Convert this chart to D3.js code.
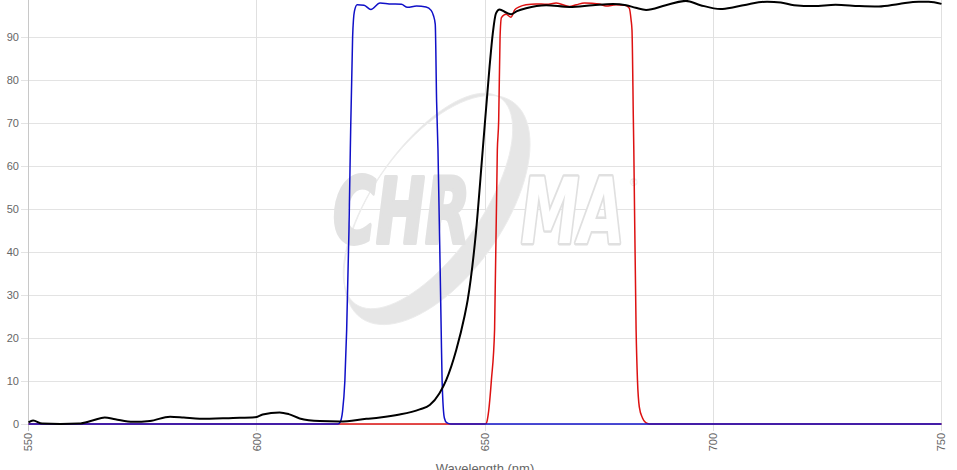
<!DOCTYPE html>
<html>
<head>
<meta charset="utf-8">
<script src="https://cdn.jsdelivr.net/npm/d3@7"></script>
<style>
  body { margin: 0; background: #fff; }
  svg { display: block; font-family: "Liberation Sans", Arial, sans-serif; }
</style>
</head>
<body>
<svg id="chart" width="957" height="470"></svg>
<script>
// wavelength (nm) / transmission (%)
const blackNm = [550, 551, 553, 557, 561, 564, 566.7, 569, 572.9, 576.6, 581, 584, 587.5, 594.8, 599.6, 601.3, 605, 607, 609.4, 613.8, 618.2, 624, 627, 631.3, 635.7, 637.9, 640, 641.5, 643.7, 645.5, 646.2, 648, 649.5, 651, 651.7, 652.4, 653.2, 654.6, 655.7, 657, 659, 663.4, 668.5, 673.6, 678, 680.9, 683, 685.3, 689.6, 694, 697.2, 701.6, 704.5, 708, 711.8, 714.8, 717.7, 722, 726.8, 732, 736.3, 740.7, 745, 747.2, 750];
const blackT = [0.4, 0.8, 0.1, 0, 0.1, 0.8, 1.5, 1.1, 0.5, 0.7, 1.7, 1.5, 1.2, 1.4, 1.55, 2.2, 2.7, 2.3, 1.3, 0.7, 0.6, 1.2, 1.5, 2.2, 3.4, 4.4, 7.1, 10.2, 17.2, 25, 28.8, 44.4, 63.7, 83.1, 90.8, 95.5, 96.4, 95.7, 95.3, 96, 96.7, 97.4, 97, 97.4, 97.7, 97.4, 96.8, 96.3, 97.4, 98.4, 97.4, 96.5, 96.9, 97.7, 98.2, 98, 97.4, 97.2, 97.5, 97.2, 97.1, 97.7, 98.2, 98.2, 97.7];

const blueNm = [550, 617.8, 618.3, 618.8, 619.3, 619.7, 620.2, 620.5, 621, 621.4, 622, 623.5, 625, 627, 629, 631.7, 633, 635, 637.1, 638.2, 638.7, 639.1, 639.4, 639.7, 640.4, 640.6, 641.1, 641.6, 642.5, 750];
const blueT = [0, 0, 0.5, 3, 10, 22, 45, 64, 90, 96, 97.5, 97.4, 96.4, 97.9, 97.7, 97.6, 96.9, 97.2, 97, 96.2, 95, 93, 75, 63.7, 21.9, 10.2, 1.4, 0.3, 0, 0];

const redNm = [550, 650, 650.3, 650.8, 651.4, 652.1, 652.7, 653, 653.3, 653.6, 654.6, 655.7, 656.5, 657.5, 659, 661.2, 663.5, 665.6, 668.5, 670, 671.8, 675, 676.5, 678.7, 680.7, 681.6, 682, 682.2, 682.5, 682.6, 683.1, 683.4, 683.8, 684.5, 685.2, 686, 750];
const redT = [0, 0, 0.2, 3, 10.2, 22, 63.7, 70.7, 90, 94.5, 95.3, 94.6, 96.3, 97, 97.5, 97.7, 97.6, 97.9, 97.1, 97.5, 97.9, 97.7, 97.2, 97.5, 97.4, 96.7, 94, 91.6, 70.7, 63.7, 21.9, 10.2, 4, 1.4, 0.3, 0, 0];

const xTicks = [550, 600, 650, 700, 750];
const yTicks = [0, 10, 20, 30, 40, 50, 60, 70, 80, 90];

const svg = d3.select("#chart");

const x = d3.scaleLinear().domain([550, 750]).range([28.5, 941.5]);
const y = d3.scaleLinear().domain([0, 100]).range([424, -6]);

// grid
svg.append("g")
    .attr("stroke", "#e3e3e3")
    .attr("shape-rendering", "crispEdges")
    .selectAll("line")
    .data(yTicks)
    .join("line")
    .attr("x1", 21)
    .attr("x2", x(750))
    .attr("y1", d => Math.round(y(d)) + 0.5)
    .attr("y2", d => Math.round(y(d)) + 0.5);

svg.append("g")
    .attr("stroke", "#e0e0e0")
    .attr("shape-rendering", "crispEdges")
    .selectAll("line")
    .data(xTicks.slice(1))
    .join("line")
    .attr("x1", d => x(d))
    .attr("x2", d => x(d))
    .attr("y1", 0)
    .attr("y2", 431);

// y axis line
svg.append("line")
    .attr("x1", x(550)).attr("x2", x(550))
    .attr("y1", 0).attr("y2", 431)
    .attr("stroke", "#c8c8c8")
    .attr("shape-rendering", "crispEdges");

// watermark
const wm = svg.append("g");
const ring = d3.path();
function ellipse(p, cx, cy, rx, ry, rot) {
    const n = 90;
    for (let i = 0; i <= n; i++) {
        const t = i / n * 2 * Math.PI;
        const ex = rx * Math.cos(t), ey = ry * Math.sin(t);
        const px = cx + ex * Math.cos(rot) - ey * Math.sin(rot);
        const py = cy + ex * Math.sin(rot) + ey * Math.cos(rot);
        if (i === 0) p.moveTo(px, py); else p.lineTo(px, py);
    }
    p.closePath();
}
ellipse(ring, 437, 210, 132, 66, -55 * Math.PI / 180);
ellipse(ring, 428, 201, 126, 54, -55 * Math.PI / 180);
wm.append("path")
    .attr("d", ring.toString())
    .attr("fill", "#e6e6e6")
    .attr("fill-rule", "evenodd")
    .attr("stroke", "#ececec")
    .attr("stroke-width", 1);

wm.append("text")
    .attr("transform", "translate(333,243) scale(0.65,1)")
    .attr("font-family", "'DejaVu Sans', sans-serif")
    .attr("font-size", 90)
    .attr("font-weight", "bold")
    .attr("font-style", "italic")
    .attr("fill", "#e2e2e2")
    .attr("stroke", "#e2e2e2")
    .attr("stroke-width", 4)
    .attr("stroke-linejoin", "round")
    .text("CHR");

wm.append("text")
    .attr("transform", "translate(521,243) scale(0.65,1)")
    .attr("font-family", "'DejaVu Sans', sans-serif")
    .attr("font-size", 90)
    .attr("font-weight", "bold")
    .attr("font-style", "italic")
    .attr("fill", "#fff")
    .attr("stroke", "#e0e0e0")
    .attr("stroke-width", 5)
    .attr("stroke-linejoin", "round")
    .attr("paint-order", "stroke")
    .text("MA");

wm.append("text")
    .attr("x", 630).attr("y", 186)
    .attr("font-size", 10)
    .attr("fill", "#e2e2e2")
    .text("®");

// tick labels
svg.append("g")
    .attr("font-size", 11)
    .attr("fill", "#666")
    .attr("text-anchor", "end")
    .selectAll("text")
    .data(yTicks)
    .join("text")
    .attr("x", 19)
    .attr("y", d => y(d))
    .attr("dy", "0.35em")
    .text(d => d);

svg.append("g")
    .attr("font-size", 11)
    .attr("fill", "#666")
    .attr("text-anchor", "end")
    .selectAll("text")
    .data(xTicks)
    .join("text")
    .attr("transform", d => `translate(${x(d)},433) rotate(-90)`)
    .attr("dy", "0.35em")
    .text(d => d);

svg.append("text")
    .attr("x", 485)
    .attr("y", 472.5)
    .attr("text-anchor", "middle")
    .attr("font-size", 13)
    .attr("fill", "#666")
    .text("Wavelength (nm)");

// curves
const line = d3.line()
    .x(d => x(d[0]))
    .y(d => y(d[1]))
    .curve(d3.curveMonotoneX);

const series = [
    {nm: redNm, t: redT, color: "#dd1111", w: 1.5},
    {nm: blueNm, t: blueT, color: "#1010c8", w: 1.5},
    {nm: blackNm, t: blackT, color: "#000", w: 2}
];

svg.append("g")
    .attr("fill", "none")
    .selectAll("path")
    .data(series)
    .join("path")
    .attr("stroke", d => d.color)
    .attr("stroke-width", d => d.w)
    .attr("stroke-linejoin", "round")
    .attr("d", d => line(d.nm.map((v, i) => [v, d.t[i]])));
</script>
</body>
</html>
